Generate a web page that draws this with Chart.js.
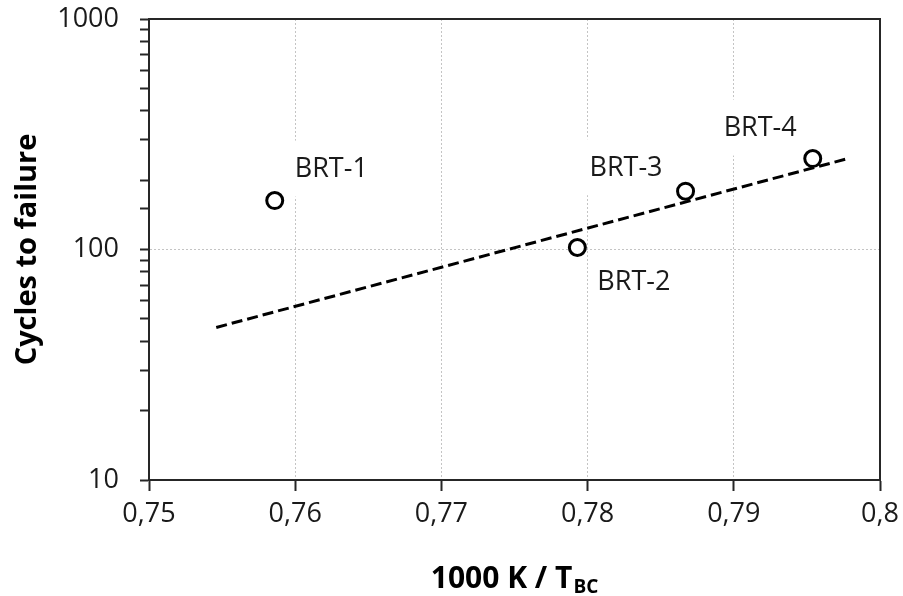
<!DOCTYPE html>
<html>
<head>
<meta charset="utf-8">
<script src="https://cdn.jsdelivr.net/npm/chart.js@4.4.1/dist/chart.umd.min.js"></script>
<style>
html,body{margin:0;padding:0;background:#fff;}
#wrap{width:903px;height:596px;position:relative;}
</style>
</head>
<body>
<div id="wrap"><canvas id="c" width="903" height="596"></canvas></div>
<script>
// ---- data ----
const sampleNames = ['BRT-1', 'BRT-2', 'BRT-3', 'BRT-4'];
const inverseTemp = [0.7586, 0.7793, 0.7867, 0.7954];   // 1000 K / T_BC
const cyclesToFailure = [163, 102, 179, 248];
const trendX = [0.7546, 0.7978];
const trendY = [45.9, 248];
const xTickValues = [0.75, 0.76, 0.77, 0.78, 0.79, 0.8];
const yTickLabels = [10, 100, 1000];

// ---- styles ----
const labelOffsets = [[20, -32, 'left'], [20, 34, 'left'], [-23, -24, 'right'], [-16, -31, 'right']];
const FONT = "'Open Sans', 'Noto Sans', sans-serif";
const TXT = '#1a1a1a';

const pointsData = inverseTemp.map((x, i) => ({x: x, y: cyclesToFailure[i]}));
const trendData = trendX.map((x, i) => ({x: x, y: trendY[i]}));

const labelPlugin = {
  id: 'pointLabels',
  beforeDatasetsDraw(chart) {
    const ctx = chart.ctx;
    const meta = chart.getDatasetMeta(0);
    ctx.save();
    ctx.font = '27px ' + FONT;
    ctx.textBaseline = 'middle';
    meta.data.forEach((pt, i) => {
      const [dx, dy, align] = labelOffsets[i];
      const txt = sampleNames[i];
      const w = ctx.measureText(txt).width;
      const left = align === 'left' ? pt.x + dx : pt.x + dx - w;
      const cy = pt.y + dy;
      ctx.fillStyle = '#ffffff';
      ctx.fillRect(left - 5, cy - 28, w + 10, 56);
      ctx.fillStyle = TXT;
      ctx.textAlign = 'left';
      ctx.fillText(txt, left, cy + 1);
    });
    ctx.restore();
  }
};

const framePlugin = {
  id: 'frame',
  afterDraw(chart) {
    const {ctx, chartArea: a} = chart;
    ctx.save();
    ctx.strokeStyle = '#262626';
    ctx.lineWidth = 2;
    ctx.beginPath();
    ctx.moveTo(a.left, a.top);
    ctx.lineTo(a.right, a.top);
    ctx.lineTo(a.right, a.bottom);
    ctx.stroke();
    // x-axis title with subscript
    const main = '1000 K / T';
    const sub = 'BC';
    ctx.fillStyle = '#000';
    ctx.textBaseline = 'alphabetic';
    ctx.font = 'bold 30px ' + FONT;
    const w1 = ctx.measureText(main).width;
    ctx.font = 'bold 19px ' + FONT;
    const w2 = ctx.measureText(sub).width;
    const cx = (a.left + a.right) / 2;
    const x0 = cx - (w1 + w2 + 1) / 2;
    const base = 588;
    ctx.font = 'bold 30px ' + FONT;
    ctx.textAlign = 'left';
    ctx.fillText(main, x0, base);
    ctx.font = 'bold 19px ' + FONT;
    ctx.fillText(sub, x0 + w1 + 1, base + 5);
    ctx.restore();
  }
};

function isPow10(v) {
  const l = Math.log10(v);
  return Math.abs(l - Math.round(l)) < 1e-9;
}

new Chart(document.getElementById('c'), {
  type: 'scatter',
  data: {
    datasets: [
      {
        label: 'samples',
        data: pointsData,
        showLine: false,
        pointRadius: 8,
        pointHoverRadius: 8,
        pointBorderWidth: 3,
        pointBorderColor: '#000',
        pointBackgroundColor: '#fff'
      },
      {
        label: 'trend',
        data: trendData,
        showLine: true,
        pointRadius: 0,
        borderColor: '#000',
        borderWidth: 3,
        borderDash: [11, 5],
        fill: false
      }
    ]
  },
  options: {
    responsive: false,
    animation: false,
    devicePixelRatio: 1,
    layout: {padding: {top: 19, right: 23, left: 0, bottom: 0}},
    plugins: {legend: {display: false}, tooltip: {enabled: false}},
    scales: {
      x: {
        type: 'linear',
        min: 0.75,
        max: 0.8,
        afterFit(s) { s.height = 116; s.paddingLeft = 0; s.paddingRight = 0; },
        afterBuildTicks(s) { s.ticks = xTickValues.map(v => ({value: v})); },
        ticks: {
          autoSkip: false,
          padding: 7,
          color: TXT,
          font: {family: FONT, size: 27},
          callback: v => String(Math.round(v * 100) / 100).replace('.', ',')
        },
        grid: {
          color: c => (c.tick && (Math.abs(c.tick.value - 0.75) < 1e-6 || Math.abs(c.tick.value - 0.8) < 1e-6)) ? 'rgba(0,0,0,0)' : '#c4c4c4',
          lineWidth: 1,
          tickColor: '#262626',
          tickLength: 11,
          tickWidth: 2
        },
        border: {display: true, color: '#262626', width: 2, dash: [2, 2]},
        title: {display: false}
      },
      y: {
        type: 'logarithmic',
        min: 10,
        max: 1000,
        afterFit(s) { s.width = 149; s.paddingTop = 0; s.paddingBottom = 0; },
        ticks: {
          autoSkip: false,
          padding: 21,
          color: TXT,
          font: {family: FONT, size: 27},
          callback: v => (isPow10(v) && yTickLabels.includes(Math.round(v))) ? String(Math.round(v)) : ''
        },
        grid: {
          color: c => (c.tick && Math.abs(c.tick.value - 100) < 1e-6) ? '#c4c4c4' : 'rgba(0,0,0,0)',
          lineWidth: 1,
          tickColor: '#262626',
          tickLength: 9,
          tickWidth: 2
        },
        border: {display: true, color: '#262626', width: 2, dash: [2, 2]},
        title: {
          display: true,
          text: 'Cycles to failure',
          color: '#000',
          font: {family: FONT, size: 29, weight: 'bold'},
          padding: {top: 10, bottom: 0}
        }
      }
    }
  },
  plugins: [labelPlugin, framePlugin]
});
</script>
</body>
</html>
